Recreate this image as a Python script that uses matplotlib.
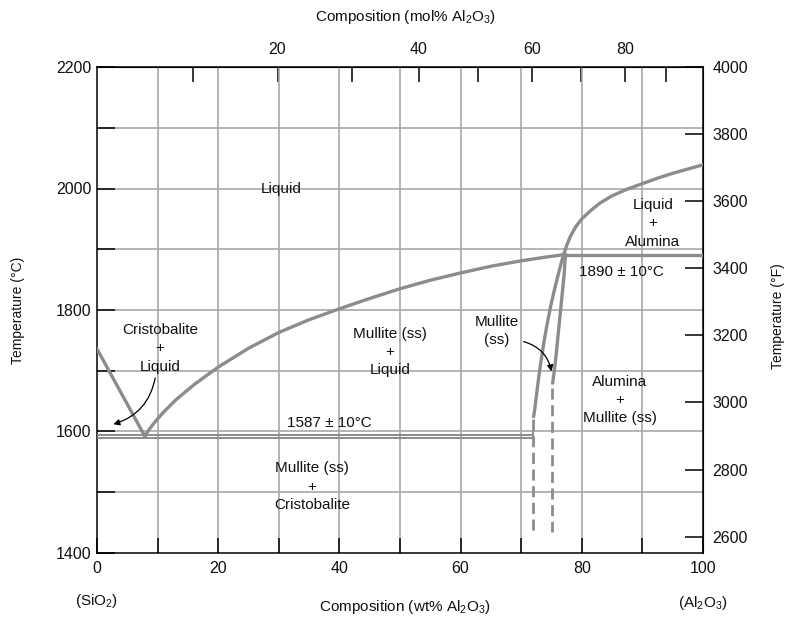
import numpy as np
import matplotlib
matplotlib.use("Agg")
import matplotlib.pyplot as plt

plt.rcParams['font.family'] = ['Liberation Sans', 'DejaVu Sans']
plt.rcParams['mathtext.fontset'] = 'custom'
plt.rcParams['mathtext.rm'] = 'Liberation Sans'
plt.rcParams['mathtext.it'] = 'Liberation Sans:italic'

# ---- phase boundaries (wt% Al2O3, deg C) ----
liq_cris_wt = [0, 7.9]
liq_cris_T = [1736, 1592]

liq_mul_wt = [7.9, 8.5, 9.5, 11, 13, 16, 20, 25, 30, 35, 40, 45, 50, 55, 60, 65, 70, 74, 77]
liq_mul_T = [1592, 1602, 1615, 1632, 1652, 1677, 1706, 1737, 1763, 1784, 1802, 1819, 1835,
             1849, 1861, 1872, 1881, 1887, 1891]

liq_alu_wt = [77, 77.5, 78.1, 79, 80, 81.5, 83, 85, 87.5, 90, 92.5, 95, 97.5, 100]
liq_alu_T = [1891, 1906, 1921, 1937, 1950, 1964, 1976, 1988, 1999, 2008, 2017, 2025, 2032, 2039]

mul_left_wt = [77.0, 76.6, 76.1, 75.5, 74.9, 74.3, 73.8, 73.3, 72.9, 72.5, 72.2, 72.05]
mul_left_T = [1891, 1877, 1858, 1834, 1808, 1778, 1750, 1718, 1690, 1658, 1634, 1625]
mul_left_dash_wt = [71.95, 71.95]
mul_left_dash_T = [1620, 1435]

mul_right_wt = [77.3, 77.1, 76.8, 76.5, 76.1, 75.7, 75.4, 75.2]
mul_right_T = [1891, 1860, 1830, 1800, 1760, 1720, 1695, 1680]
mul_right_dash_wt = [75.1, 75.1]
mul_right_dash_T = [1672, 1435]

eutectic_wt = [0, 72]
eutectic_T = [1590, 1594.5]
peritectic_wt = [77, 100]
peritectic_T = 1890

# ---- region labels ----
labels = ["Liquid", "Cristobalite\n+\nLiquid", "Mullite (ss)\n+\nLiquid", "Mullite\n(ss)",
          "Liquid\n+\nAlumina", "1890 ± 10°C", "Alumina\n+\nMullite (ss)", "1587 ± 10°C",
          "Mullite (ss)\n+\nCristobalite"]
label_wt = [30.4, 10.4, 48.3, 66.0, 91.7, 86.6, 86.3, 38.4, 35.5]
label_T = [2000, 1737, 1731, 1765, 1943, 1862, 1652, 1614, 1509]

mol_ticks = [20, 40, 60, 80]
f_ticks = [2600, 2800, 3000, 3200, 3400, 3600, 3800, 4000]


def wt2mol(w):
    w = np.asarray(w, dtype=float)
    a = w / 101.96
    s = (100 - w) / 60.08
    return 100 * a / (a + s)


def mol2wt(m):
    m = np.asarray(m, dtype=float)
    a = m * 101.96
    s = (100 - m) * 60.08
    return 100 * a / (a + s)


# right scale as printed in the figure (4000 F sits on the top edge)
def c2f(c):
    return np.asarray(c) * 1.811 + 15.8


def f2c(f):
    return (np.asarray(f) - 15.8) / 1.811


line_c = '#8c8c8c'
grid_c = '#a8a8a8'
txt_c = '#111111'

fig = plt.figure(figsize=(7.86, 6.21), dpi=100)
ax = fig.add_axes([97 / 786, 1 - 553 / 621, 606 / 786, 486 / 621])
ax.set_xlim(0, 100)
ax.set_ylim(1400, 2200)

# grid
for xv in range(10, 100, 10):
    ax.axvline(xv, color=grid_c, lw=1.2, zorder=1)
for yv in range(1500, 2200, 100):
    ax.axhline(yv, color=grid_c, lw=1.2, zorder=1)

lw = 2.4
ax.plot(liq_cris_wt, liq_cris_T, color=line_c, lw=lw, zorder=3)
ax.plot(liq_mul_wt, liq_mul_T, color=line_c, lw=lw, zorder=3)
ax.plot(liq_alu_wt, liq_alu_T, color=line_c, lw=lw, zorder=3)
ax.plot(mul_left_wt, mul_left_T, color=line_c, lw=lw, zorder=3)
ax.plot(mul_right_wt, mul_right_T, color=line_c, lw=lw, zorder=3)
ax.plot(mul_left_dash_wt, mul_left_dash_T, color=line_c, lw=2, ls=(0, (4, 2)), zorder=3)
ax.plot(mul_right_dash_wt, mul_right_dash_T, color=line_c, lw=2, ls=(0, (4, 2)), zorder=3)
for t in eutectic_T:
    ax.plot(eutectic_wt, [t, t], color=line_c, lw=1.4, zorder=3)
ax.plot([72, 72], [1588, 1600], color=line_c, lw=1.4, zorder=3)
ax.plot(peritectic_wt, [peritectic_T, peritectic_T], color=line_c, lw=lw, zorder=3)

for s, x, y in zip(labels, label_wt, label_T):
    ax.text(x, y, s, ha='center', va='center', fontsize=11, color=txt_c,
            linespacing=1.4, zorder=4)

ax.annotate('', xy=(2.7, 1612), xytext=(9.6, 1688),
            arrowprops=dict(arrowstyle='-|>', color='black', lw=0.9, mutation_scale=9,
                            shrinkA=0, shrinkB=0, connectionstyle='arc3,rad=-0.3'))
ax.annotate('', xy=(75.0, 1699), xytext=(70.4, 1748),
            arrowprops=dict(arrowstyle='-|>', color='black', lw=0.9, mutation_scale=9,
                            shrinkA=0, shrinkB=0, connectionstyle='arc3,rad=-0.3'))

# axes / ticks
ax.set_xticks(range(0, 101, 20))
ax.set_xticks(range(0, 101, 10), minor=True)
ax.set_yticks(range(1400, 2201, 200))
ax.set_yticks(range(1400, 2201, 100), minor=True)
ax.tick_params(which='both', direction='in', labelsize=11.5, labelcolor=txt_c)
ax.tick_params(axis='x', which='both', length=11, width=1.1, pad=6)
ax.tick_params(axis='y', which='both', length=13, width=1.1, pad=4)
for sp in ax.spines.values():
    sp.set_linewidth(1.1)

top = ax.secondary_xaxis('top', functions=(wt2mol, mol2wt))
top.set_xticks(mol_ticks)
top.set_xticks(range(10, 100, 10), minor=True)
top.tick_params(which='both', direction='in', length=11, width=1.1, pad=7,
                labelsize=11.5, labelcolor=txt_c)

right = ax.secondary_yaxis('right', functions=(c2f, f2c))
right.set_yticks(f_ticks)
right.tick_params(which='both', direction='in', length=13, width=1.1, pad=7,
                  labelsize=11.5, labelcolor=txt_c)

fig.text(18 / 786, 1 - 310 / 621, 'Temperature (°C)', rotation=90, ha='center', va='center',
         fontsize=10, color=txt_c)
fig.text(778 / 786, 1 - 316 / 621, 'Temperature (°F)', rotation=90, ha='center', va='center',
         fontsize=10, color=txt_c)
fig.text(405 / 786, 1 - 17 / 621, r'Composition (mol% Al$_2$O$_3$)', ha='center', va='center',
         fontsize=11, color=txt_c)
fig.text(405 / 786, 1 - 607 / 621, r'Composition (wt% Al$_2$O$_3$)', ha='center', va='center',
         fontsize=11, color=txt_c)
fig.text(97 / 786, 1 - 601 / 621, r'(SiO$_2$)', ha='center', va='center', fontsize=11, color=txt_c)
fig.text(703 / 786, 1 - 603 / 621, r'(Al$_2$O$_3$)', ha='center', va='center', fontsize=11, color=txt_c)

fig.savefig('out.png', dpi=100)
